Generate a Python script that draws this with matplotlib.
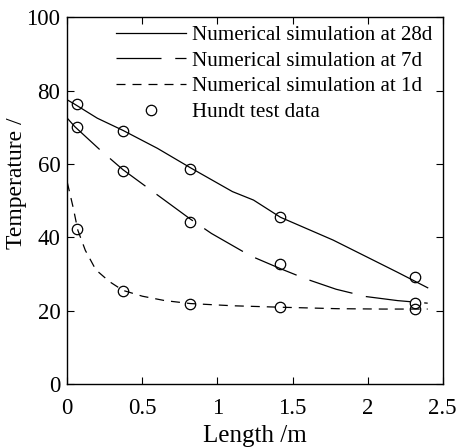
import matplotlib
matplotlib.use("Agg")
import matplotlib.pyplot as plt

# ---------- data ----------
x_28d = [0, 0.05, 0.2, 0.37, 0.6, 0.82, 1.1, 1.24, 1.42, 1.77, 1.99, 2.2, 2.40]
y_28d = [77.5, 76.3, 72.5, 69.2, 64.3, 59.0, 52.5, 50.2, 45.5, 39.3, 34.8, 30.5, 26.3]

x_7d = [0, 0.05, 0.22, 0.37, 0.54, 0.82, 0.96, 1.22, 1.42, 1.59, 1.79, 1.99, 2.2, 2.40]
y_7d = [72.5, 70.2, 63.8, 58.5, 53.4, 45.0, 41.1, 35.0, 31.5, 28.7, 25.9, 23.9, 22.8, 22.1]

x_1d = [0, 0.04, 0.07, 0.12, 0.19, 0.28, 0.37, 0.5, 0.65, 0.82, 1.1, 1.42, 1.8, 2.1, 2.40]
y_1d = [55.0, 48.0, 42.0, 36.5, 31.2, 28.0, 25.6, 24.0, 22.8, 22.0, 21.4, 21.0, 20.6, 20.5, 20.5]

test_x = [0.065, 0.369, 0.817, 1.416, 2.317,
          0.065, 0.369, 0.817, 1.416, 2.317,
          0.062, 0.369, 0.817, 1.416, 2.317]
test_y = [76.4, 69.1, 58.7, 45.7, 29.2,
          70.2, 58.2, 44.1, 32.7, 22.2,
          42.2, 25.5, 22.0, 21.1, 20.4]

x_ticks = [0, 0.5, 1, 1.5, 2, 2.5]
x_tick_labels = ["0", "0.5", "1", "1.5", "2", "2.5"]
y_ticks = [0, 20, 40, 60, 80, 100]

plt.rcParams['font.family'] = ['Liberation Serif', 'DejaVu Serif']
plt.rcParams['font.size'] = 16.5

fig = plt.figure(figsize=(4.6, 4.48), dpi=100)
ax = fig.add_axes([0.1463, 0.1422, 0.8161, 0.8192])

ax.plot(x_28d, y_28d, color='black', lw=0.9, label='Numerical simulation at 28d')
ax.plot(x_7d, y_7d, color='black', lw=0.9, dashes=(36, 11),
        label='Numerical simulation at 7d')
ax.plot(x_1d, y_1d, color='black', lw=0.9, dashes=(7.2, 5.6),
        label='Numerical simulation at 1d')
ax.plot(test_x, test_y, linestyle='None', marker='o', markersize=7.5,
        markerfacecolor='none', markeredgecolor='black', mew=0.9,
        label='Hundt test data')

ax.set_xlim(0, 2.5)
ax.set_ylim(0, 100)
ax.set_xticks(x_ticks)
ax.set_xticklabels(x_tick_labels)
ax.set_yticks(y_ticks)
ax.tick_params(direction='in', top=True, right=True, length=5, width=0.8)
ax.tick_params(axis='x', pad=10)
ax.tick_params(axis='y', pad=5)
for s in ax.spines.values():
    s.set_linewidth(1.0)

ax.set_xlabel("Length /m", fontsize=18, labelpad=4)
ax.set_ylabel("Temperature /", fontsize=17)
ax.yaxis.set_label_coords(-0.107, 0.548)

ax.legend(loc='upper right', bbox_to_anchor=(1.0, 1.006), frameon=False,
          handlelength=3.3, numpoints=1, labelspacing=0.28, handletextpad=0.3,
          borderaxespad=0.1, fontsize=15.1)

fig.savefig("out.png", dpi=100)
